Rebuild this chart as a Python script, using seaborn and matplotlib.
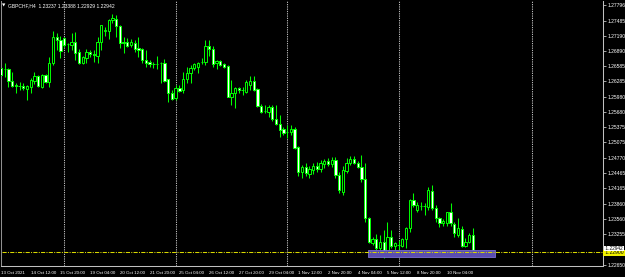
import numpy as np
import pandas as pd
import matplotlib
matplotlib.use("Agg")
import matplotlib.pyplot as plt
from matplotlib.patches import Rectangle
import seaborn as sns

# ---------------- data ----------------
header_text = "GBPCHF,H4  1.23237 1.23388 1.22929 1.22942"

opens = [1.26548, 1.26518, 1.26522, 1.26296, 1.26211, 1.26191, 1.26191, 1.26138, 1.26166, 1.26296,
         1.26389, 1.26166, 1.26409, 1.26276, 1.26641, 1.27167, 1.27102, 1.27148, 1.27023, 1.27003,
         1.27068, 1.26870, 1.26653, 1.26752, 1.26864, 1.26819, 1.26791, 1.27057, 1.27286, 1.27286,
         1.27498, 1.27512, 1.27389, 1.27057, 1.27068, 1.27003, 1.27037, 1.26938, 1.26918, 1.26706,
         1.26672, 1.26627, 1.26621, 1.26653, 1.26641, 1.26324, 1.26058, 1.25948, 1.26157, 1.26112,
         1.26324, 1.26443, 1.26542, 1.26562, 1.26661, 1.26672, 1.26983, 1.26924, 1.26641, 1.26686,
         1.26627, 1.26587, 1.25979, 1.26047, 1.26146, 1.26112, 1.26078, 1.26211, 1.26290, 1.26126,
         1.25795, 1.25696, 1.25682, 1.25781, 1.25538, 1.25439, 1.25334, 1.25286, 1.25286, 1.25340,
         1.24978, 1.24488, 1.24587, 1.24449, 1.24528, 1.24607, 1.24548, 1.24647, 1.24706, 1.24647,
         1.24726, 1.24429, 1.24098, 1.24514, 1.24661, 1.24740, 1.24673, 1.24593, 1.24344, 1.23572,
         1.23089, 1.23156, 1.22978, 1.23097, 1.22879, 1.23207, 1.23023, 1.23037, 1.23023, 1.23156,
         1.23374, 1.23934, 1.23736, 1.23821, 1.23815, 1.23801, 1.24118, 1.23770, 1.23572, 1.23473,
         1.23473, 1.23691, 1.23459, 1.23241, 1.23360, 1.23023, 1.23108, 1.23237]
highs = [1.26627, 1.26641, 1.26548, 1.26474, 1.26245, 1.26276, 1.26245, 1.26211, 1.26344, 1.26474,
         1.26409, 1.26423, 1.26423, 1.26771, 1.27286, 1.27235, 1.27181, 1.27167, 1.27037, 1.27235,
         1.27266, 1.26918, 1.26785, 1.26918, 1.26904, 1.26904, 1.27167, 1.27399, 1.27365, 1.27512,
         1.27617, 1.27597, 1.27399, 1.27167, 1.27136, 1.27122, 1.27102, 1.27167, 1.26938, 1.26904,
         1.26706, 1.26672, 1.26785, 1.26672, 1.26720, 1.26330, 1.26112, 1.26211, 1.26211, 1.26474,
         1.26562, 1.26607, 1.26653, 1.26672, 1.26740, 1.27102, 1.27102, 1.26983, 1.26706, 1.26706,
         1.26653, 1.26607, 1.26310, 1.26177, 1.26177, 1.26177, 1.26310, 1.26389, 1.26389, 1.26146,
         1.25829, 1.25815, 1.25815, 1.25815, 1.25815, 1.25617, 1.25385, 1.25419, 1.25419, 1.25374,
         1.25003, 1.24627, 1.24667, 1.24607, 1.24667, 1.24686, 1.24726, 1.24746, 1.24766, 1.24785,
         1.24785, 1.24488, 1.24607, 1.24760, 1.24805, 1.24805, 1.24712, 1.24825, 1.24661, 1.23603,
         1.23207, 1.23261, 1.23241, 1.23340, 1.23504, 1.23340, 1.23108, 1.23142, 1.23176, 1.23394,
         1.23948, 1.24067, 1.23900, 1.23900, 1.23869, 1.24197, 1.24231, 1.23835, 1.23603, 1.23552,
         1.23702, 1.23869, 1.23504, 1.23572, 1.23419, 1.23176, 1.23275, 1.23388]
lows = [1.26369, 1.26375, 1.26177, 1.26177, 1.26047, 1.26112, 1.26112, 1.25914, 1.26058, 1.26231,
        1.26177, 1.26146, 1.26256, 1.26177, 1.26607, 1.26904, 1.26740, 1.26969, 1.26870, 1.26904,
        1.26706, 1.26627, 1.26627, 1.26653, 1.26760, 1.26672, 1.26653, 1.26904, 1.27181, 1.27116,
        1.27445, 1.27167, 1.26938, 1.26839, 1.26969, 1.26958, 1.26870, 1.26771, 1.26641, 1.26562,
        1.26573, 1.26542, 1.26522, 1.26245, 1.26276, 1.25880, 1.25914, 1.25914, 1.26078, 1.26047,
        1.26256, 1.26256, 1.26508, 1.26443, 1.26627, 1.26607, 1.26785, 1.26573, 1.26522, 1.26587,
        1.26542, 1.25967, 1.25815, 1.25750, 1.26047, 1.26013, 1.26047, 1.26112, 1.26098, 1.25770,
        1.25663, 1.25651, 1.25572, 1.25504, 1.25419, 1.25176, 1.25221, 1.25156, 1.25221, 1.24950,
        1.24409, 1.24370, 1.24409, 1.24370, 1.24449, 1.24488, 1.24488, 1.24568, 1.24607, 1.24587,
        1.24370, 1.24073, 1.24033, 1.24463, 1.24627, 1.24647, 1.24562, 1.24296, 1.23504, 1.23077,
        1.23043, 1.22944, 1.22944, 1.22780, 1.22845, 1.22978, 1.22944, 1.22811, 1.22998, 1.22978,
        1.23306, 1.23801, 1.23702, 1.23736, 1.23637, 1.23736, 1.23736, 1.23504, 1.23405, 1.23419,
        1.23419, 1.23419, 1.23207, 1.23207, 1.22998, 1.22998, 1.23077, 1.22929]
closes = [1.26409, 1.26528, 1.26296, 1.26191, 1.26191, 1.26185, 1.26146, 1.26191, 1.26310, 1.26389,
          1.26191, 1.26409, 1.26276, 1.26641, 1.27167, 1.27102, 1.26890, 1.27003, 1.27013, 1.27068,
          1.26851, 1.26641, 1.26760, 1.26864, 1.26819, 1.26813, 1.27057, 1.27399, 1.27294, 1.27498,
          1.27532, 1.27379, 1.27048, 1.27048, 1.26983, 1.27057, 1.26924, 1.26904, 1.26706, 1.26653,
          1.26621, 1.26621, 1.26627, 1.26641, 1.26296, 1.26058, 1.25928, 1.26157, 1.26098, 1.26324,
          1.26455, 1.26542, 1.26627, 1.26653, 1.26666, 1.26983, 1.26924, 1.26627, 1.26686, 1.26607,
          1.26573, 1.25979, 1.26058, 1.26146, 1.26112, 1.26106, 1.26276, 1.26290, 1.26112, 1.25795,
          1.25682, 1.25690, 1.25781, 1.25538, 1.25439, 1.25320, 1.25267, 1.25280, 1.25340, 1.24970,
          1.24488, 1.24587, 1.24469, 1.24548, 1.24607, 1.24548, 1.24667, 1.24706, 1.24647, 1.24726,
          1.24429, 1.24132, 1.24528, 1.24661, 1.24740, 1.24673, 1.24582, 1.24352, 1.23572, 1.23108,
          1.23156, 1.22978, 1.23108, 1.22879, 1.23207, 1.23023, 1.23089, 1.23043, 1.23156, 1.23374,
          1.23934, 1.23835, 1.23835, 1.23815, 1.23821, 1.24132, 1.23770, 1.23572, 1.23473, 1.23524,
          1.23691, 1.23473, 1.23287, 1.23374, 1.23023, 1.23108, 1.23241, 1.22942]

x_tick_bars = [0, 8, 16, 24, 32, 40, 48, 56, 64, 72, 80, 88, 96, 104, 112, 120]
x_tick_labels = ["13 Oct 2021", "14 Oct 12:00", "15 Oct 20:00", "19 Oct 04:00", "20 Oct 12:00",
                 "21 Oct 20:00", "25 Oct 04:00", "26 Oct 12:00", "27 Oct 20:00", "29 Oct 04:00",
                 "1 Nov 12:00", "2 Nov 20:00", "4 Nov 04:00", "5 Nov 12:00", "8 Nov 20:00",
                 "10 Nov 04:00"]
y_tick_values = [1.27796, 1.27485, 1.27190, 1.26890, 1.26585, 1.26285, 1.25980, 1.25680, 1.25375,
                 1.25075, 1.24770, 1.24465, 1.24165, 1.23860, 1.23560, 1.23255, 1.22650]
y_tick_labels = ["1.27796", "1.27485", "1.27190", "1.26890", "1.26585", "1.26285", "1.25980",
                 "1.25680", "1.25375", "1.25075", "1.24770", "1.24465", "1.24165", "1.23860",
                 "1.23560", "1.23255", "1.22650"]
separator_bars = [17, 47, 77, 107, 143]
level_price = 1.22900
level_label = "1.22900"
bid_label = "1.22942"
zone_bars = (98.9, 133.0)
zone_prices = (1.22799, 1.22944)

# ---------------- style ----------------
sns.set_theme(style="dark", rc={
    "axes.facecolor": "black", "figure.facecolor": "black",
    "axes.edgecolor": "#c0c0c0", "axes.grid": False,
    "xtick.color": "#c0c0c0", "ytick.color": "#c0c0c0",
})
plt.rcParams["font.family"] = ["Liberation Sans", "DejaVu Sans"]

df = pd.DataFrame({"bar": np.arange(len(opens)), "open": opens, "high": highs,
                   "low": lows, "close": closes})
df["bull"] = df["close"] >= df["open"]
df["body_low"] = df[["open", "close"]].min(axis=1)
df["body_h"] = (df["open"] - df["close"]).abs()

W, H = 625, 277
fig = plt.figure(figsize=(W / 100, H / 100), dpi=100)
ax = fig.add_axes([1 / W, (H - 266) / H, 602 / W, 265 / H])

px = 1 / 3.722  # bar units per pixel
ax.set_xlim(1 * px, 603 * px)
ax.set_ylim(1.226272, 1.278742)

lime = "#00ff00"
# wicks
ax.vlines(df["bar"], df["low"], df["high"], color=lime, linewidth=0.75, zorder=2)
# bodies
ax.bar(df["bar"], df["body_h"], bottom=df["body_low"], width=0.62,
       color=np.where(df["bull"], "black", "white"), edgecolor=lime,
       linewidth=0.7, zorder=3)

# week separators
for b in separator_bars:
    ax.axvline(b, color="#b8b8b8", linewidth=0.75, linestyle=(0, (1.2, 1.0)), zorder=1)

# zone rectangle
ax.add_patch(Rectangle((zone_bars[0], zone_prices[0]), zone_bars[1] - zone_bars[0],
                       zone_prices[1] - zone_prices[0], facecolor="#5a4db0",
                       edgecolor="#7a70d0", linewidth=0.6, zorder=4))
# level line
sns.lineplot(x=[ax.get_xlim()[0], ax.get_xlim()[1]], y=[level_price, level_price], ax=ax,
             color="#d8d800", linewidth=0.75, linestyle=(0, (4, 1.2, 1, 1.2)), zorder=5)

# axes
for s in ["top"]:
    ax.spines[s].set_visible(False)
for s in ["left", "right", "bottom"]:
    ax.spines[s].set_color("#c0c0c0")
    ax.spines[s].set_linewidth(0.75)
ax.spines["left"].set_color("#909090")

ax.yaxis.tick_right()
ax.set_yticks(y_tick_values)
ax.set_yticklabels(y_tick_labels)
ax.tick_params(axis="y", length=2.2, width=0.6, pad=1.2, labelsize=3.6, labelcolor="white")
for lbl in ax.get_yticklabels():
    lbl.set_horizontalalignment("left")

ax.set_xticks(x_tick_bars)
ax.set_xticklabels(x_tick_labels)
ax.tick_params(axis="x", length=2.2, width=0.6, pad=1.2, labelsize=3.2, labelcolor="white")
for lbl in ax.get_xticklabels():
    lbl.set_horizontalalignment("left")
ax.set_xlabel("")
ax.set_ylabel("")

# right-side price labels
fig.text(604 / W, 1 - 253 / H, " " + level_label + " ", fontsize=3.6, color="black",
         va="center", ha="left",
         bbox=dict(boxstyle="square,pad=0.15", facecolor="#f0f000", edgecolor="none"))
fig.text(604 / W, 1 - 248.5 / H, " " + bid_label + " ", fontsize=3.4, color="black",
         va="center", ha="left",
         bbox=dict(boxstyle="square,pad=0.05", facecolor="white", edgecolor="none"))

# header
fig.text(2 / W, 1 - 5.5 / H, "\u25bc", fontsize=3.2, color="white", va="center", ha="left",
         family=["DejaVu Sans"])
fig.text(8 / W, 1 - 5.5 / H, header_text, fontsize=3.6, color="white", va="center", ha="left")

fig.savefig("out.png", dpi=100, facecolor="black")
